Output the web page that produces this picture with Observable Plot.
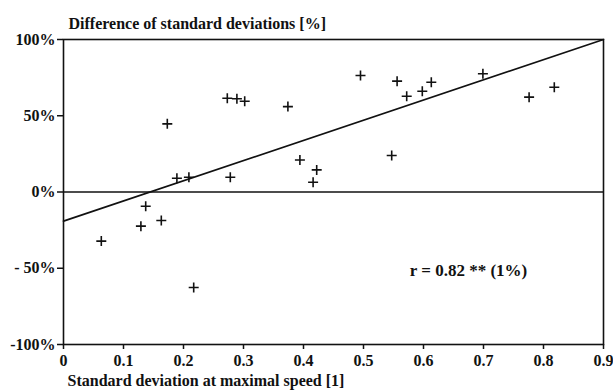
<!DOCTYPE html>
<html><head><meta charset="utf-8">
<script src="https://cdn.jsdelivr.net/npm/d3@7"></script>
<script src="https://cdn.jsdelivr.net/npm/@observablehq/plot@0.6"></script>
<style>body{margin:0;background:#fff}svg{font-family:"Liberation Serif",serif;font-weight:bold}</style>
</head><body><div id="chart"></div>
<script>
const sdMaxSpeed = [0.063,0.129,0.137,0.163,0.173,0.189,0.209,0.217,0.273,0.278,0.289,0.302,0.374,0.394,0.416,0.422,0.495,0.547,0.556,0.572,0.598,0.613,0.699,0.776,0.818];
const diffSd =     [-32.2,-22.4,-9.3,-18.7,44.7,9.0,9.7,-62.6,61.5,9.7,61.1,59.5,56.0,21.0,6.4,14.5,76.4,23.9,72.7,62.8,66.1,72.0,77.5,62.2,68.7];
const fitX = [0, 0.9];
const fitY = [-19.1, 100];
const xTicks = [0,0.1,0.2,0.3,0.4,0.5,0.6,0.7,0.8,0.9];
const yTicks = [-100,-50,0,50,100];
const yTickLabels = ["-100%","- 50%","0%","50%","100%"];
const title = "Difference of standard deviations [%]";
const xTitle = "Standard deviation at maximal speed [1]";
const annotation = "r = 0.82 ** (1%)";

const points = sdMaxSpeed.map((x,i)=>({x, y: diffSd[i]}));
const fit = fitX.map((x,i)=>({x, y: fitY[i]}));
const plusSymbol = {draw(ctx, size){const r = Math.sqrt(size/Math.PI); ctx.moveTo(-r,0); ctx.lineTo(r,0); ctx.moveTo(0,-r); ctx.lineTo(0,r);}};
const xFmt = d => d === 0 ? "0" : d3.format(".1f")(d);

const chart = Plot.plot({
  width: 613, height: 390,
  marginLeft: 63, marginRight: 10, marginTop: 39, marginBottom: 46,
  style: {fontFamily: "'Liberation Serif', serif", fontWeight: "bold", fontSize: "16px", color: "#111"},
  x: {domain: [0, 0.9], label: null},
  y: {domain: [-100, 100], label: null},
  marks: [
    Plot.frame({stroke: "#111", strokeWidth: 1.6}),
    Plot.axisX({ticks: xTicks, tickFormat: xFmt, tickSize: 5, tickPadding: 5, strokeWidth: 1.5, fontSize: 16, label: null}),
    Plot.axisY({ticks: yTicks, tickFormat: d => yTickLabels[yTicks.indexOf(d)], tickSize: 6, tickPadding: 2, strokeWidth: 1.5, fontSize: 16, label: null}),
    Plot.ruleY([0], {stroke: "#111", strokeWidth: 1.4}),
    Plot.line(fit, {x: "x", y: "y", stroke: "#111", strokeWidth: 1.6}),
    Plot.dot(points, {x: "x", y: "y", symbol: plusSymbol, r: 5, stroke: "#111", strokeWidth: 1.6, fill: "none"}),
    Plot.text([annotation], {x: 0.675, y: -51.5, text: d => d, fontSize: 17, fill: "#111"}),
    Plot.text([title], {frameAnchor: "top-left", dx: 5, dy: -22, textAnchor: "start", text: d => d, fontSize: 16, fill: "#111"}),
    Plot.text([xTitle], {frameAnchor: "bottom-left", dx: 4, dy: 41, textAnchor: "start", text: d => d, fontSize: 16, fill: "#111"})
  ]
});
document.getElementById("chart").append(chart);
</script></body></html>
